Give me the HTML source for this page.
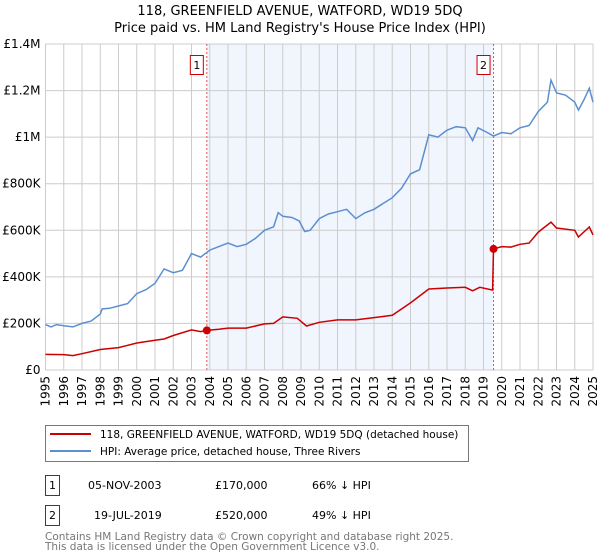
<!DOCTYPE html>
<html><head><meta charset="utf-8"><style>
body{margin:0;background:#fff;}
svg{display:block;font-family:"DejaVu Sans","Liberation Sans",sans-serif;}
</style></head><body>
<svg id="chart" width="600" height="560" viewBox="0 0 600 560" xmlns="http://www.w3.org/2000/svg">
<text x="300" y="15" text-anchor="middle" font-size="13" fill="#000">118, GREENFIELD AVENUE, WATFORD, WD19 5DQ</text>
<text x="300" y="32" text-anchor="middle" font-size="13" fill="#000">Price paid vs. HM Land Registry's House Price Index (HPI)</text>
<g id="plot"></g>
<g>
<rect x="45.5" y="425.5" width="423" height="36" fill="#fff" stroke="#777"/>
<line x1="50" y1="434" x2="91" y2="434" stroke="#cc0000" stroke-width="2"/>
<text x="100" y="438" font-size="10.5">118, GREENFIELD AVENUE, WATFORD, WD19 5DQ (detached house)</text>
<line x1="50" y1="451" x2="91" y2="451" stroke="#5b8fd0" stroke-width="2"/>
<text x="100" y="455" font-size="10.5">HPI: Average price, detached house, Three Rivers</text>
</g>
<g font-size="11">
<rect x="45.5" y="475.5" width="14" height="20" fill="#fff" stroke="#cc0000"/>
<text x="52.5" y="489" text-anchor="middle">1</text>
<text x="88" y="489">05-NOV-2003</text>
<text x="215" y="489">£170,000</text>
<text x="312" y="489">66% ↓ HPI</text>
<rect x="45.5" y="505.5" width="14" height="20" fill="#fff" stroke="#cc0000"/>
<text x="52.5" y="519" text-anchor="middle">2</text>
<text x="94" y="519">19-JUL-2019</text>
<text x="215" y="519">£520,000</text>
<text x="312" y="519">49% ↓ HPI</text>
</g>
<text x="45" y="540" font-size="10.5" fill="#777">Contains HM Land Registry data © Crown copyright and database right 2025.</text>
<text x="45" y="550" font-size="10.5" fill="#777">This data is licensed under the Open Government Licence v3.0.</text>
</svg>
<script>
const hpiYears=[1995,1995.3,1995.6,1996,1996.5,1997,1997.5,1998,1998.1,1998.5,1999,1999.5,2000,2000.5,2001,2001.5,2002,2002.5,2003,2003.5,2004,2004.5,2005,2005.5,2006,2006.5,2007,2007.5,2007.75,2008,2008.5,2008.9,2009.2,2009.5,2010,2010.5,2011,2011.5,2012,2012.5,2013,2013.5,2014,2014.5,2015,2015.5,2016,2016.5,2017,2017.5,2018,2018.4,2018.7,2019.2,2019.55,2020,2020.5,2021,2021.5,2022,2022.5,2022.7,2023,2023.5,2024,2024.2,2024.5,2024.8,2025];
const hpiValues=[195,185,195,190,185,200,210,240,262,265,275,285,328,345,372,434,418,428,500,485,515,530,545,530,540,565,600,615,676,660,655,640,595,600,650,670,680,690,650,675,690,715,740,780,842,860,1010,1000,1030,1045,1040,985,1040,1020,1005,1020,1015,1040,1050,1110,1150,1245,1190,1180,1150,1116,1160,1210,1150];
const priceYears=[1995,1996,1996.5,1997,1998,1999,2000,2001,2001.5,2002,2003,2003.5,2003.84,2004.5,2005,2006,2007,2007.5,2008,2008.8,2009.3,2010,2011,2012,2013,2014,2015,2016,2017,2018,2018.4,2018.8,2019.5,2019.55,2020,2020.5,2021,2021.5,2022,2022.7,2023,2024,2024.2,2024.8,2025];
const priceValues=[67,66,62,70,88,96,116,128,133,148,172,165,170,175,180,180,198,200,228,222,189,205,215,215,225,235,288,348,352,355,340,355,343,520,530,528,540,545,592,635,610,600,571,614,580];
const saleYears=[2003.84,2019.55];
const saleValues=[170,520];
const saleLabels=["1","2"];
const yTicks=[0,200,400,600,800,1000,1200,1400];
const yTickLabels=["£0","£200K","£400K","£600K","£800K","£1M","£1.2M","£1.4M"];
const xTicks=[1995,1996,1997,1998,1999,2000,2001,2002,2003,2004,2005,2006,2007,2008,2009,2010,2011,2012,2013,2014,2015,2016,2017,2018,2019,2020,2021,2022,2023,2024,2025];

const X0=45.5,X1=593,Y0=370,Y1=44;
const x=y=>X0+(y-1995)/30*(X1-X0);
const yv=v=>Y0-v/1400*(Y0-Y1);
const NS="http://www.w3.org/2000/svg";
const plot=document.getElementById('plot');
function mk(t,a){const e=document.createElementNS(NS,t);for(const k in a)e.setAttribute(k,a[k]);plot.appendChild(e);return e;}

let e=mk('rect',{x:x(saleYears[0]),y:Y1,width:x(saleYears[1])-x(saleYears[0]),height:Y0-Y1,fill:'#eef3fc',opacity:0.8});


yTicks.forEach((t,i)=>{
 let g=mk('line',{x1:X0,x2:X1,y1:yv(t),y2:yv(t),stroke:'#cccccc','stroke-width':1});
 
 
 let l=mk('text',{x:X0-5,y:yv(t)+4,'text-anchor':'end','font-size':12});
 l.textContent=yTickLabels[i];
 
 
});
xTicks.forEach(t=>{
 let g=mk('line',{x1:x(t),x2:x(t),y1:Y1,y2:Y0,stroke:'#cccccc','stroke-width':1});
 
 
 let l=mk('text',{x:0,y:0,'text-anchor':'end','font-size':12,transform:`translate(${x(t)+4},${Y0+6}) rotate(-90)`});
 l.textContent=t;
 
 
});
saleYears.forEach((s,i)=>{
 let d=mk('line',{x1:x(s),x2:x(s),y1:Y1,y2:Y0,stroke:'#e05555','stroke-width':1,'stroke-dasharray':'2,2'});
 
 
 let b=mk('rect',{x:x(s)-16.5,y:55.5,width:13,height:19,fill:'#fff',stroke:'#cc0000'});
 
 
 let t=mk('text',{x:x(s)-10,y:69,'text-anchor':'middle','font-size':11});
 t.textContent=saleLabels[i];
 
 
});
const path=(xs,vs)=>xs.map((a,i)=>(i?'L':'M')+x(a).toFixed(1)+','+yv(vs[i]).toFixed(1)).join('');
let h=mk('path',{d:path(hpiYears,hpiValues),fill:'none',stroke:'#5b8fd0','stroke-width':1.5});


let p=mk('path',{d:path(priceYears,priceValues),fill:'none',stroke:'#cc0000','stroke-width':1.5});


saleYears.forEach((s,i)=>{
 let c=mk('circle',{cx:x(s),cy:yv(saleValues[i]),r:4,fill:'#cc0000'});
 
 
});
</script>
</body></html>
